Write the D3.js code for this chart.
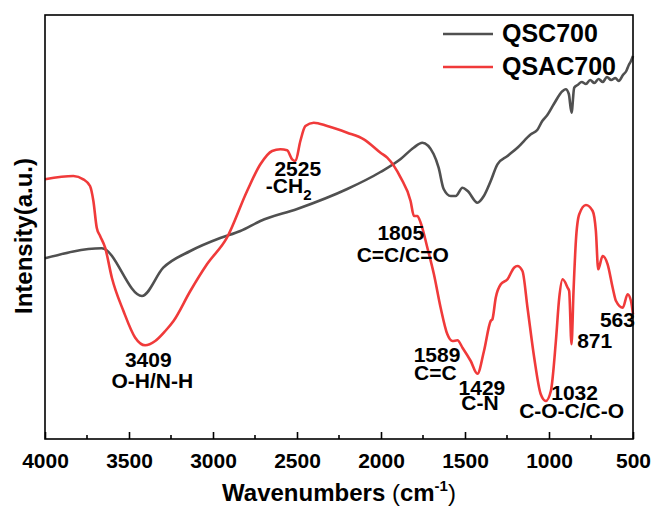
<!DOCTYPE html>
<html><head><meta charset="utf-8">
<script src="https://cdn.jsdelivr.net/npm/d3@7"></script>
<style>body{margin:0;background:#fff}svg{display:block}text{font-family:"Liberation Sans",Arial,sans-serif;font-weight:bold;fill:#000}</style>
</head><body><svg id="c" width="652" height="506"></svg>
<script>
// wavenumbers (cm-1) and intensity (a.u.)
const qscWave = [4000,3662,3423,3296,3135,2957,2837,2718,2499,2201,2003,1883,1806,1754,1687,1657,1627,1585,1555,1515,1484,1426,1388,1347,1307,1247,1188,1108,1070,1040,1010,971,919,900,882,866,850,830,805,780,755,730,705,680,655,630,605,585,560,540,525,512,500];
const qscVal  = [180.7,190.7,143,171.3,188,201,208,218,230,250,267,280,291.3,296.3,285,271.3,250,243,243,251.3,248,236.3,243,258,274.7,283,291.3,304.7,309,318,324,335,348,349.7,345,326.3,351.3,354,357,355,359,356,360,357,362,359,361,358,364,368,374,378,383];
const qsacWave = [4000,3831,3772,3732,3712,3692,3672,3642,3602,3533,3463,3404,3344,3284,3235,3135,3036,2917,2797,2718,2648,2599,2559,2529,2509,2480,2450,2400,2320,2201,2102,2003,1963,1883,1824,1804,1784,1764,1724,1685,1645,1605,1575,1545,1515,1466,1426,1387,1347,1337,1317,1287,1247,1208,1188,1158,1128,1088,1049,1019,989,959,939,919,889,880,866,854,840,820,780,740,721,707,681,651,621,601,561,532,512,500];
const qsacVal  = [259.7,263,259.7,253,238,211.3,203,191.3,161.3,128,101.3,93.7,98,108,118,148,174.7,201.3,248,274.7,288,289.7,288.7,279.7,278,298,313,316.3,313,306.3,299.7,286.3,281.3,261.3,238,223,223,216.3,191.3,164.7,131.3,104.7,98,98.7,91.3,78,65.3,88,118,119.7,141.3,154.7,159.7,171.3,173,168,131.3,81.3,44.7,38,48,98,141.3,159.7,151.3,148,94.7,148,198,224.7,234,228,208,169.7,183,174.7,151.3,138,131.3,144.7,138,124.7];
const xTicks = [4000,3500,3000,2500,2000,1500,1000,500];
const xMinor = [3750,3250,2750,2250,1750,1250,750];
const seriesNames = ["QSC700","QSAC700"];
const seriesColors = ["#505050","#f03a3a"];
const peakWaves = [3409,2525,1805,1589,1429,1032,871,563];
const peakText = [["3409","O-H/N-H"],["2525","-CH"],["1805","C=C/C=O"],["1589","C=C"],["1429","C-N"],["1032","C-O-C/C-O"],["871"],["563"]];

const svg = d3.select("#c");
const L=45, R=633, T=15, B=439;
const x = d3.scaleLinear().domain([4000,500]).range([L,R]);
const y = d3.scaleLinear().domain([0,424]).range([B,T]);

const line = d3.line().x(d=>x(d[0])).y(d=>y(d[1])).curve(d3.curveMonotoneX);
const data = [d3.zip(qscWave,qscVal), d3.zip(qsacWave,qsacVal)];
data.forEach((d,i)=>{
  svg.append("path").attr("d",line(d)).attr("fill","none")
    .attr("stroke",seriesColors[i]).attr("stroke-width",2.6).attr("stroke-linejoin","round");
});

// frame
svg.append("rect").attr("x",L).attr("y",T).attr("width",R-L).attr("height",B-T)
  .attr("fill","none").attr("stroke","#000").attr("stroke-width",1.6);

// bottom axis with inward ticks
const ax = svg.append("g").attr("transform",`translate(0,${B})`)
  .call(d3.axisBottom(x).tickValues(xTicks).tickSizeInner(-7).tickSizeOuter(0).tickPadding(14).tickFormat(d3.format("d")));
ax.select(".domain").remove();
ax.selectAll(".tick line").attr("stroke","#000").attr("stroke-width",1.6);
ax.selectAll(".tick text").style("font-size","21px").style("font-family","'Liberation Sans',Arial,sans-serif").style("font-weight","bold").attr("fill","#000");
svg.append("g").selectAll("line").data(xMinor).join("line")
  .attr("x1",d=>x(d)).attr("x2",d=>x(d)).attr("y1",B).attr("y2",B-4)
  .attr("stroke","#000").attr("stroke-width",1.6);

// axis titles
const xt = svg.append("text").attr("x",(L+R)/2).attr("y",501).attr("text-anchor","middle").style("font-size","24px");
xt.append("tspan").text("Wavenumbers ");
xt.append("tspan").text("(").style("font-weight","normal");
xt.append("tspan").text("cm");
xt.append("tspan").text("-1").attr("dy",-10).style("font-size","15px");
xt.append("tspan").text(")").attr("dy",10).style("font-weight","normal");
svg.append("text").attr("transform","translate(32,236) rotate(-90)").attr("text-anchor","middle")
  .style("font-size","24px").text("Intensity(a.u.)");

// legend
const legY=[34,67];
seriesNames.forEach((n,i)=>{
  svg.append("line").attr("x1",443).attr("x2",493).attr("y1",legY[i]).attr("y2",legY[i])
    .attr("stroke",seriesColors[i]).attr("stroke-width",2.6);
  svg.append("text").attr("x",502).attr("y",legY[i]+8).style("font-size","25px").text(n);
});

// peak annotation layout: per line [dx from peak, baseline y, anchor]
const annLayout = [
  [[4,367,"middle"],[8,388,"middle"]],
  [[5,176,"middle"],[-27,193,"start"]],
  [[-13,240,"middle"],[-11,262,"middle"]],
  [[-13,362,"middle"],[-36,380,"start"]],
  [[5,395,"middle"],[3,410,"middle"]],
  [[31,400,"middle"],[28,418,"middle"]],
  [[24,348,"middle"]],
  [[-5,327,"middle"]]
];
peakWaves.forEach((w,i)=>{
  peakText[i].forEach((t,j)=>{
    const a = annLayout[i][j];
    const tx = svg.append("text").attr("x",x(w)+a[0]).attr("y",a[1]).attr("text-anchor",a[2]).style("font-size","21px").text(t);
    if(w===2525 && j===1){ tx.append("tspan").text("2").attr("dy",7).style("font-size","15px"); }
  });
});
</script></body></html>
